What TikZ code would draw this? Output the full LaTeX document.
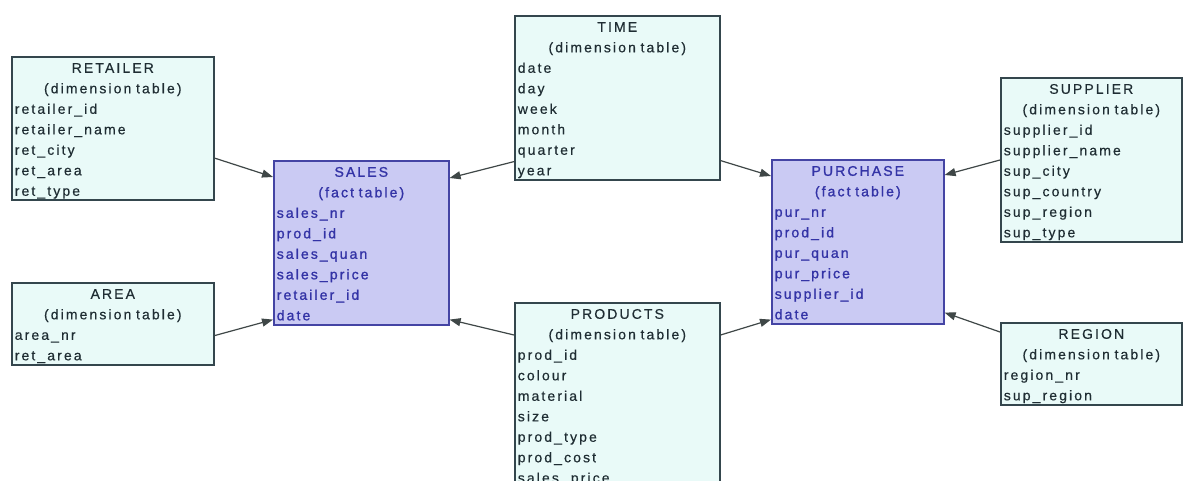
\documentclass[tikz,border=0pt]{standalone}
\usepackage{fontspec}
\setmainfont{Liberation Sans}[LetterSpace=15,FakeBold=0.4]
\newfontfamily\factfont{Liberation Sans}[LetterSpace=15,FakeBold=1.2]
\usetikzlibrary{arrows.meta}

\definecolor{dimfill}{HTML}{E9FAF8}
\definecolor{dimdraw}{HTML}{34464D}
\definecolor{dimtext}{HTML}{1F2D33}
\definecolor{factfill}{HTML}{CACAF3}
\definecolor{factdraw}{HTML}{4444A4}
\definecolor{facttext}{HTML}{3333A6}
\definecolor{linkcol}{HTML}{3F4747}

% table heading (two centred lines) and closing strut
\newcommand\tablehead[2]{\rule{0pt}{16pt}\hfill#1\hfill\null\\\hfill#2\hfill\null\\}
\newcommand\tableend{\rule[-4.5pt]{0pt}{4.5pt}}

\tikzset{
  tablebox/.style={draw, line width=1.6pt, anchor=north west,
    inner xsep=3pt, inner ysep=0pt, align=left,
    font=\fontsize{14pt}{20.5pt}\selectfont},
  dimbox/.style={tablebox, fill=dimfill, draw=dimdraw, text=dimtext},
  factbox/.style={tablebox, fill=factfill, draw=factdraw, text=facttext,
    font=\factfont\fontsize{14pt}{20.5pt}\selectfont},
  link/.style={draw=linkcol, line width=1.2pt,
    -{Triangle[length=11pt,width=8pt]}}
}

\begin{document}
\begin{tikzpicture}[x=1pt,y=-1pt]
\path[use as bounding box, fill=white] (0,0) rectangle (1188,481);
\clip (0,0) rectangle (1188,481);

% dimension tables
\node[dimbox, text width=196pt] (retailer) at (11,56)
  {\tablehead{RETAILER}{(dimension table)}retailer\_id\\retailer\_name\\ret\_city\\ret\_area\\ret\_type\tableend};
\node[dimbox, text width=196pt] (area) at (11,282)
  {\tablehead{AREA}{(dimension table)}area\_nr\\ret\_area\tableend};
\node[dimbox, text width=199pt] (time) at (514,15)
  {\tablehead{TIME}{(dimension table)}date\\day\\week\\month\\quarter\\year\tableend};
\node[dimbox, text width=199pt] (products) at (514,302)
  {\tablehead{PRODUCTS}{(dimension table)}prod\_id\\colour\\material\\size\\prod\_type\\prod\_cost\\sales\_price\tableend};
\node[dimbox, text width=175pt] (supplier) at (1000,77)
  {\tablehead{SUPPLIER}{(dimension table)}supplier\_id\\supplier\_name\\sup\_city\\sup\_country\\sup\_region\\sup\_type\tableend};
\node[dimbox, text width=175pt] (region) at (1000,322)
  {\tablehead{REGION}{(dimension table)}region\_nr\\sup\_region\tableend};

% fact tables
\node[factbox, text width=169pt] (sales) at (273,160)
  {\tablehead{SALES}{(fact table)}sales\_nr\\prod\_id\\sales\_quan\\sales\_price\\retailer\_id\\date\tableend};
\node[factbox, text width=166pt] (purchase) at (771,159)
  {\tablehead{PURCHASE}{(fact table)}pur\_nr\\prod\_id\\pur\_quan\\pur\_price\\supplier\_id\\date\tableend};

% references from dimension tables to fact tables
\draw[link] ([yshift=43pt]retailer.south east) -- ([yshift=-17pt]sales.north west);
\draw[link] ([yshift=30pt]area.south east) -- ([yshift=6pt]sales.south west);
\draw[link] ([yshift=19pt]time.south west) -- ([yshift=-18pt]sales.north east);
\draw[link] ([yshift=20pt]time.south east) -- ([yshift=-17pt]purchase.north west);
\draw[link] ([yshift=-33pt]products.north west) -- ([yshift=6pt]sales.south east);
\draw[link] ([yshift=-33pt]products.north east) -- ([yshift=5pt]purchase.south west);
\draw[link] ([yshift=-83pt]supplier.north west) -- ([yshift=-16pt]purchase.north east);
\draw[link] ([yshift=-10pt]region.north west) -- ([yshift=12pt]purchase.south east);
\end{tikzpicture}
\end{document}
